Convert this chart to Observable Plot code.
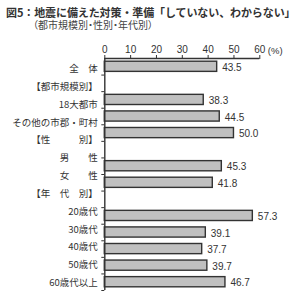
<!DOCTYPE html>
<html><head><meta charset="utf-8">
<script src="https://cdn.jsdelivr.net/npm/d3@7"></script>
<script src="https://cdn.jsdelivr.net/npm/@observablehq/plot@0.6"></script>
<style>
body{margin:0;background:#fff;width:304px;height:300px;overflow:hidden;font-family:"Liberation Sans","Noto Sans CJK JP",sans-serif;}
#head{position:absolute;left:6px;top:7px;font:bold 11px/11.5px "Noto Sans CJK JP";color:#333;white-space:nowrap;letter-spacing:-0.1px;}
#head .sub{display:inline-block;margin-left:27px;font-weight:normal;font-size:10px;color:#444;letter-spacing:0;font-feature-settings:"palt";}
#chart{position:absolute;left:0;top:30px;}
</style></head><body>
<div id="head">図5：地震に備えた対策・準備「していない、わからない」<br><span class="sub">（都市規模別・性別・年代別）</span></div>
<div id="chart"></div>
<script>
const labels = ["全　体","【都市規模別】","18大都市","その他の市郡・町村","【性　　　別】","男　　性","女　　性","【年　代　別】","20歳代","30歳代","40歳代","50歳代","60歳代以上"];
const rowValues = [43.5, null, 38.3, 44.5, 50.0, null, 45.3, 41.8, null, 57.3, 39.1, 37.7, 39.7, 46.7];
const xTicks = [0, 10, 20, 30, 40, 50, 60];
const unitLabel = "(%)";

const nRows = rowValues.length;
const bars = rowValues.map((v, i) => ({row: i, value: v})).filter(d => d.value != null);
const labelData = labels.map((t, i) => ({t, pos: (i + 0.5) * nRows / labels.length}));
const ink = "#333";

const chart = Plot.plot({
  width: 304,
  height: 270,
  marginTop: 28,
  marginBottom: 10,
  marginLeft: 104.3,
  marginRight: 44.7,
  style: {fontFamily: '"Liberation Sans","Noto Sans CJK JP",sans-serif', fontSize: "9.5px", color: ink, background: "#fff"},
  x: {domain: [0, 60], axis: null},
  y: {domain: [0, nRows], reverse: true, axis: null},
  marks: [
    Plot.rect(bars, {x1: d => 0, x2: "value", y1: "row", y2: d => d.row + 1, insetTop: 3.2, insetBottom: 3.2, fill: "#c0c0c0", stroke: ink, strokeWidth: 1.4}),
    Plot.axisX({anchor: "top", ticks: xTicks, tickSize: 4, tickPadding: 2, label: null, stroke: ink, fill: ink, fontSize: 10}),
    Plot.axisY({anchor: "left", ticks: d3.range(1, nRows + 1), tickSize: 3, tickFormat: () => "", label: null, stroke: ink}),
    Plot.ruleY([0], {stroke: ink, strokeWidth: 1.4}),
    Plot.ruleX([0], {stroke: ink, strokeWidth: 1.4}),
    Plot.text(bars, {x: "value", y: d => d.row + 0.5, text: d => d.value.toFixed(1), dx: 5, dy: 1, textAnchor: "start", fill: ink, fontSize: 10}),
    Plot.text(labelData, {frameAnchor: "left", y: "pos", text: "t", dx: -7, dy: 1.5, textAnchor: "end", fill: ink, fontSize: 9.5, fontFamily: '"Noto Sans CJK JP"'}),
    Plot.text([unitLabel], {frameAnchor: "top-right", text: d => d, dx: 8, dy: -11, textAnchor: "start", fill: ink, fontSize: 9.5})
  ]
});
document.getElementById("chart").appendChild(chart);
</script>
</body></html>
